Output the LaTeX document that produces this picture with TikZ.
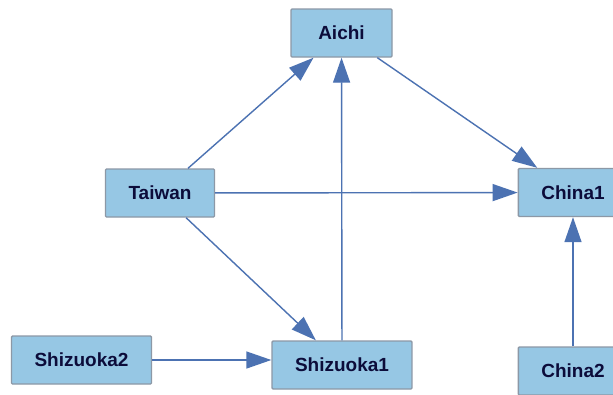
\documentclass[tikz,border=0pt]{standalone}
\usepackage{fontspec}
\setmainfont{Liberation Sans}
\usetikzlibrary{arrows.meta}
\definecolor{boxfill}{RGB}{150,199,228}
\definecolor{boxline}{RGB}{140,152,166}
\definecolor{edgeblue}{RGB}{76,114,178}
\definecolor{labelink}{RGB}{12,12,58}
\tikzset{
  place/.style={draw=boxline, line width=1.4pt, fill=boxfill, rounded corners=1pt,
    minimum width=101pt, minimum height=48pt, inner xsep=23pt,
    font=\fontsize{19}{21}\selectfont\bfseries, text=labelink},
  link/.style={draw=edgeblue, line width=1.4pt, -{Triangle[length=25pt,width=17pt]}}
}
\begin{document}
\begin{tikzpicture}[x=1pt, y=-1pt]
\useasboundingbox (0,0) rectangle (613,394);
\clip (0,0) rectangle (613,394);
\fill[white] (0,0) rectangle (613,394);
% places
\node[place] (aichi)     at (341.5,  33)   {Aichi};
\node[place] (taiwan)    at (160,   193)   {Taiwan};
\node[place] (china1)    at (573,   192.5) {China1};
\node[place] (shizuoka2) at (81.5,  360)   {Shizuoka2};
\node[place] (shizuoka1) at (342,   365)   {Shizuoka1};
\node[place] (china2)    at (573,   371)   {China2};
% links
\draw[link] (taiwan)    -- (aichi);
\draw[link] (taiwan)    -- (china1);
\draw[link] (taiwan)    -- (shizuoka1);
\draw[link] (shizuoka2.east) -- (shizuoka2.east -| shizuoka1.west);
\draw[link] (shizuoka1) -- (aichi);
\draw[link] (aichi)     -- (china1);
\draw[link] (china2)    -- (china1);
\end{tikzpicture}
\end{document}
